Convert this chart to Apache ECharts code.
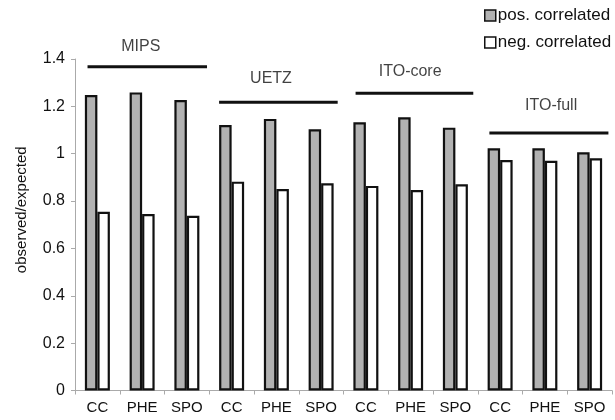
<!DOCTYPE html>
<html>
<head>
<meta charset="utf-8">
<script src="https://cdn.jsdelivr.net/npm/echarts@6/dist/echarts.min.js"></script>
<style>
html,body{margin:0;padding:0;background:#fff;}
#chart{width:615px;height:420px;}
</style>
</head>
<body>
<div id="chart"></div>
<script>
// ---- data ----
var categories = ['CC','PHE','SPO','CC','PHE','SPO','CC','PHE','SPO','CC','PHE','SPO'];
var posCorrelated = [1.248,1.259,1.227, 1.121,1.147,1.103, 1.133,1.154,1.110, 1.023,1.023,1.006];
var negCorrelated = [0.755,0.745,0.738, 0.882,0.851,0.875, 0.864,0.847,0.871, 0.973,0.970,0.981];
var yTicks = [0,0.2,0.4,0.6,0.8,1,1.2,1.4];
var groupNames = ['MIPS','UETZ','ITO-core','ITO-full'];
// group bracket spans in category units and value level
var groupStart = [0.28, 3.22, 6.27, 9.26];
var groupEnd   = [2.95, 5.87, 8.90, 11.92];
var groupLineY = [1.367, 1.217, 1.255, 1.087];
var groupLabelX = [1.47, 4.38, 7.49, 10.64];
var groupLabelY = [1.452, 1.318, 1.346, 1.203];

var chart = echarts.init(document.getElementById('chart'), null, {renderer:'canvas'});
var FONT = 'Liberation Sans, Arial, sans-serif';

var series = [
  {
    name:'pos. correlated', type:'bar', data: posCorrelated,
    barWidth: 12.5, barGap: '0%',
    itemStyle:{color:'#b2b2b2', borderColor:'#111', borderWidth:2.2},
    xAxisIndex:0, yAxisIndex:0, z:2
  },
  {
    name:'neg. correlated', type:'bar', data: negCorrelated,
    barWidth: 12.5, barGap: '0%',
    itemStyle:{color:'#ffffff', borderColor:'#111', borderWidth:2.2},
    xAxisIndex:0, yAxisIndex:0, z:2
  }
];
groupNames.forEach(function(g,i){
  series.push({
    type:'line', xAxisIndex:1, yAxisIndex:0, silent:true, clip:false,
    data:[[groupStart[i], groupLineY[i]],[groupEnd[i], groupLineY[i]]],
    symbol:'none', lineStyle:{color:'#111', width:3}, z:3
  });
});
series.push({
  type:'scatter', xAxisIndex:1, yAxisIndex:0, silent:true, clip:false,
  symbolSize:0,
  data: groupNames.map(function(g,i){ return {value:[groupLabelX[i], groupLabelY[i]], name:g}; }),
  label:{show:true, position:'inside', formatter:'{b}', color:'#111', fontSize:16, fontFamily:FONT}
});

chart.setOption({
  animation:false,
  backgroundColor:'#fff',
  grid:{left:75, right:3, top:59, bottom:29.5, containLabel:false},
  legend:{
    orient:'vertical', left:479, top:2, itemGap:10,
    itemWidth:11, itemHeight:11, icon:'rect',
    textStyle:{fontSize:17, color:'#111', fontFamily:FONT, padding:[0,0,0,-3]},
    data:[
      {name:'pos. correlated', itemStyle:{color:'#b2b2b2', borderColor:'#111', borderWidth:1.5}},
      {name:'neg. correlated', itemStyle:{color:'#fff', borderColor:'#111', borderWidth:1.5}}
    ]
  },
  xAxis:[
    {
      type:'category', data:categories, boundaryGap:true,
      axisLine:{lineStyle:{color:'#aaa', width:1}},
      axisTick:{show:true, alignWithLabel:false, length:4, lineStyle:{color:'#aaa'}},
      axisLabel:{color:'#111', fontSize:15, fontFamily:FONT, margin:10, interval:0}
    },
    {
      type:'value', min:0, max:12, show:false
    }
  ],
  yAxis:[{
    type:'value', min:0, max:1.4, interval:0.2,
    name:'observed/expected', nameLocation:'middle', nameGap:46,
    nameTextStyle:{fontSize:15, color:'#111', fontFamily:FONT, padding:[0,0,0,30]},
    axisLine:{show:true, lineStyle:{color:'#aaa'}},
    axisTick:{show:true, length:4, lineStyle:{color:'#aaa'}},
    splitLine:{show:false},
    axisLabel:{color:'#111', fontSize:16, fontFamily:FONT, margin:10,
      formatter:function(v){ var t = yTicks.find(function(x){return Math.abs(x-v)<1e-9;}); return t===undefined? '' : String(t); }}
  }],
  series: series
});
</script>
</body>
</html>
